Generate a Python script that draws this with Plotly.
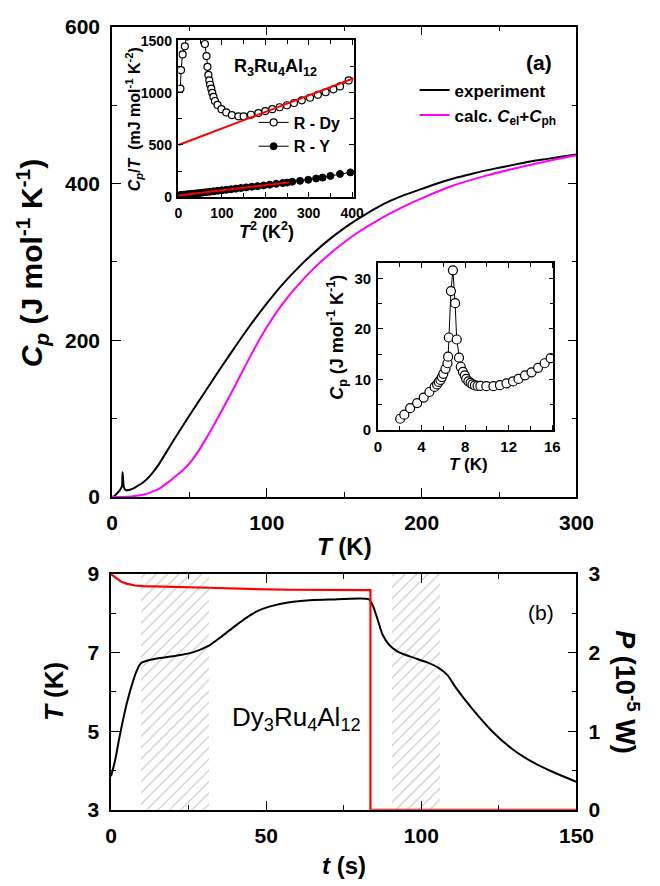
import plotly.graph_objects as go

# ---------------- data ----------------
# main panel (a): Cp(T)
T_exp = [0, 1, 2, 3, 4, 5, 6, 6.5, 6.8, 7.1, 7.5, 8, 9, 10, 12, 15, 20, 25, 30, 35, 40, 50,
         60, 70, 80, 90, 100, 110, 120, 130, 140, 150, 160, 170, 180, 190, 200, 210, 220,
         230, 240, 250, 260, 270, 280, 290, 300]
Cp_exp = [0, 0.8, 2.1, 4.3, 6.3, 8.5, 12, 14.5, 31.5, 25, 14.3, 11, 9, 8.7, 9.6, 12.5, 18.5,
          28, 41, 57, 73, 104, 134, 164, 193, 221, 247, 271, 292, 311, 328, 343, 356, 368,
          378, 386, 393, 400, 406, 411, 416, 420, 424, 428, 431, 434, 437]

T_calc = [0, 5, 10, 15, 20, 25, 30, 37, 40, 45, 50, 55, 60, 70, 80, 90, 100, 110, 120, 130,
          140, 150, 160, 170, 180, 190, 200, 220, 240, 260, 280, 300]
Cp_calc = [0, 0.1, 0.5, 1.5, 3, 6, 10, 20, 25, 33, 43, 56, 72, 107, 144, 182, 217, 246, 270,
           291, 309, 325, 339, 351, 362, 372, 381, 397, 409, 419, 428, 436]

# inset 1: Cp/T vs T^2
T2_dy = [4.4, 5.9, 9.5, 14.6, 20, 27, 36, 42, 46, 50, 52, 55, 58, 60.8, 64.5, 66.7, 68.9, 71,
         73, 75.5, 77.7, 80.6, 84, 90, 99, 110, 123, 138, 150, 167, 184, 200, 216, 233, 250,
         266, 284, 303, 321, 339, 357, 372, 392]
CpT_dy = [1040, 1219, 1369, 1447, 1540, 1635, 1850, 2800, 4650, 3530, 2475, 1920, 1645, 1469,
          1353, 1250, 1172, 1119, 1078, 1040, 1000, 962, 922, 884, 844, 812, 787, 775, 775,
          790, 806, 825, 844, 862, 881, 903, 928, 953, 981, 1006, 1034, 1062, 1119]
T2_y = [1.5, 4, 6.3, 9, 12.3, 16, 20, 25, 30, 36, 42, 49, 56, 64, 72, 81, 90, 100, 110, 121,
        132, 144, 156, 169, 182, 196, 210, 225, 240, 250, 262, 280, 299, 317, 332, 350, 372, 396]
CpT_y = [17, 18, 19, 20, 22, 24, 26, 28, 31, 33, 36, 40, 43, 47, 51, 55, 60, 65, 70, 75, 81,
         87, 93, 99, 105, 112, 119, 127, 134, 139, 147, 156, 166, 178, 187, 203, 222, 237]
fit_dy_x = [0, 404]
fit_dy_y = [500, 1140]
fit_y_x = [0, 255]
fit_y_y = [16, 141]

# inset 2: low-T Cp of Dy3Ru4Al12
T_low = [2.04, 2.42, 2.95, 3.6, 4.2, 4.72, 5.2, 5.43, 5.58, 5.73, 5.87, 6.0, 6.2, 6.38, 6.44,
         6.5, 6.7, 6.88, 7.08, 7.23, 7.44, 7.6, 7.8, 7.97, 8.1, 8.3, 8.5, 8.68, 8.9, 9.15, 9.4,
         9.95, 10.6, 11.2, 11.8, 12.4, 12.9, 13.5, 14.1, 14.7, 15.3, 15.85]
Cp_low = [2.2, 3.0, 4.3, 5.3, 6.4, 7.5, 8.5, 9.0, 9.5, 9.9, 10.45, 11.1, 12.1, 13.2, 14.5,
          18.3, 27.5, 31.6, 25.1, 17.9, 14.3, 12.5, 11.5, 10.8, 10.1, 9.6, 9.3, 9.0, 8.8, 8.7,
          8.7, 8.65, 8.65, 8.85, 9.2, 9.6, 10.1, 10.8, 11.4, 12.3, 13.2, 14.2]

# panel (b): relaxation curve
t_T = [0, 1.3, 2.6, 3.9, 5.2, 7.2, 8.5, 9.8, 11.8, 15.7, 20.9, 26.1, 31.4, 35.3, 39.2,
       43.1, 47, 51, 57.5, 64, 70.6, 83, 84.3, 85.6, 87.5, 89.5, 92.1, 96.7, 101.9, 105.8,
       108.5, 111, 116.3, 122.8, 129.4, 135.9, 142.4, 150]
T_samp = [3.85, 4.25, 4.8, 5.3, 5.75, 6.3, 6.58, 6.74, 6.8, 6.86, 6.92, 7.0, 7.17, 7.39,
          7.63, 7.86, 8.05, 8.17, 8.28, 8.33, 8.35, 8.36, 8.21, 7.92, 7.46, 7.21, 7.04, 6.89,
          6.75, 6.6, 6.42, 6.12, 5.58, 5.0, 4.54, 4.21, 3.96, 3.71]
t_P = [0, 1.3, 3.3, 5.2, 7.8, 10.5, 18.3, 31.4, 44.4, 57.5, 83.6, 83.6, 150]
P_heat = [3.0, 2.96, 2.90, 2.875, 2.854, 2.846, 2.84, 2.825, 2.81, 2.80, 2.795, 0, 0]
hatch_start = [9.8, 90.4]
hatch_end = [31.6, 106.1]

# ---------------- layout helpers ----------------
W, H = 660, 886
FONT = "Liberation Sans, Arial, sans-serif"


def fx(px):
    return px / W


def fy(py):
    return 1 - py / H


fig = go.Figure()

# main panel
fig.add_trace(go.Scatter(x=T_exp, y=Cp_exp, mode="lines", name="experiment",
                         line=dict(color="black", width=2, shape="spline", smoothing=0.5),
                         xaxis="x", yaxis="y", legend="legend"))
fig.add_trace(go.Scatter(x=T_calc, y=Cp_calc, mode="lines",
                         name="calc. <i>C</i><sub>el</sub>+<i>C</i><sub>ph</sub>",
                         line=dict(color="#ff00ff", width=2, shape="spline", smoothing=0.8),
                         xaxis="x", yaxis="y", legend="legend"))

# inset 1
fig.add_trace(go.Scatter(x=T2_dy, y=CpT_dy, mode="lines+markers", name="R - Dy",
                         line=dict(color="black", width=1),
                         marker=dict(symbol="circle", size=7, color="white",
                                     line=dict(color="black", width=1.2)),
                         xaxis="x3", yaxis="y3", legend="legend2", cliponaxis=True))
fig.add_trace(go.Scatter(x=T2_y, y=CpT_y, mode="lines+markers", name="R - Y",
                         line=dict(color="black", width=1),
                         marker=dict(symbol="circle", size=7, color="black",
                                     line=dict(color="black", width=1)),
                         xaxis="x3", yaxis="y3", legend="legend2"))
fig.add_trace(go.Scatter(x=fit_dy_x, y=fit_dy_y, mode="lines", showlegend=False,
                         line=dict(color="red", width=2), xaxis="x3", yaxis="y3"))
fig.add_trace(go.Scatter(x=fit_y_x, y=fit_y_y, mode="lines", showlegend=False,
                         line=dict(color="red", width=2), xaxis="x3", yaxis="y3"))

# inset 2
fig.add_trace(go.Scatter(x=T_low, y=Cp_low, mode="lines+markers", showlegend=False,
                         line=dict(color="black", width=1),
                         marker=dict(symbol="circle", size=9, color="white",
                                     line=dict(color="black", width=1.2)),
                         xaxis="x4", yaxis="y4"))

# panel (b): hatched regions
fig.add_trace(go.Bar(
    x=[(a + b) / 2 for a, b in zip(hatch_start, hatch_end)],
    width=[b - a for a, b in zip(hatch_start, hatch_end)],
    y=[6] * len(hatch_start), base=[3] * len(hatch_start),
    marker=dict(color="rgba(0,0,0,0)", line=dict(width=0),
                pattern=dict(shape="/", fgcolor="#999999", bgcolor="rgba(0,0,0,0)",
                             size=8, solidity=0.15, fillmode="overlay")),
    showlegend=False, hoverinfo="skip", xaxis="x2", yaxis="y2"))
fig.add_trace(go.Scatter(x=t_T, y=T_samp, mode="lines", showlegend=False,
                         line=dict(color="black", width=2, shape="spline", smoothing=0.6),
                         xaxis="x2", yaxis="y2"))
fig.add_trace(go.Scatter(x=t_P, y=P_heat, mode="lines", showlegend=False,
                         line=dict(color="red", width=2.2), xaxis="x2", yaxis="y5"))


# ---------------- axes ----------------
def ax(domain, rng, anchor, dtick, mdtick, size, tl=9, mtl=5, standoff=None, **kw):
    d = dict(domain=domain, range=rng, anchor=anchor, showline=True, linecolor="black",
             linewidth=1.5, mirror="ticks", ticks="inside", ticklen=tl, tickwidth=1.3,
             tickcolor="black", dtick=dtick, tick0=0, showgrid=False, zeroline=False,
             tickfont=dict(family=FONT, size=size, color="black", weight="bold"),
             minor=dict(ticks="inside", ticklen=mtl, tickwidth=1.3, tickcolor="black",
                        dtick=mdtick, showgrid=False))
    if standoff is not None:
        d["ticklabelstandoff"] = standoff
    d.update(kw)
    return d


layout = dict(
    width=W, height=H, margin=dict(l=0, r=0, t=0, b=0),
    paper_bgcolor="white", plot_bgcolor="white",
    font=dict(family=FONT, color="black"),
    xaxis=ax([fx(110), fx(592)], [0, 300], "y", 100, 50, 21, standoff=6),
    yaxis=ax([fy(498), fy(15)], [0, 600], "x", 200, 100, 21, standoff=6),
    xaxis2=ax([fx(109), fx(592)], [0, 150], "y2", 50, 25, 21, standoff=6),
    yaxis2=ax([fy(819), fy(577)], [3, 9], "x2", 2, 1, 21, standoff=6, tick0=3, mirror=True),
    yaxis5=ax([fy(819), fy(577)], [0, 3], "x2", 1, 0.5, 21, standoff=6, overlaying="y2",
              side="right"),
    xaxis3=ax([fx(179), fx(361)], [0, 404], "y3", 100, 50, 14, tl=5, mtl=4, standoff=2),
    yaxis3=ax([fy(190), fy(29)], [0, 1505], "x3", 500, 250, 14, tl=5, mtl=4, standoff=2),
    xaxis4=ax([fx(386), fx(568)], [0, 16.1], "y4", 4, 2, 15, tl=5, mtl=4, standoff=2),
    yaxis4=ax([fy(429), fy(258)], [0, 33], "x4", 10, 5, 15, tl=5, mtl=4, standoff=2),
    legend=dict(x=fx(424), y=fy(62), xanchor="left", yanchor="top",
                bgcolor="rgba(0,0,0,0)", borderwidth=0, itemwidth=30,
                font=dict(family=FONT, size=17, color="black", weight="bold")),
    legend2=dict(x=fx(257), y=fy(96), xanchor="left", yanchor="top",
                 bgcolor="rgba(0,0,0,0)", borderwidth=0, itemwidth=30,
                 font=dict(family=FONT, size=16, color="black", weight="bold")),
    showlegend=True,
    bargap=0,
)
fig.update_layout(**layout)


def note(text, x, y, size, bold=True, angle=0):
    fig.add_annotation(text=text, x=fx(x), y=fy(y), xref="paper", yref="paper",
                       showarrow=False, textangle=angle, xanchor="center", yanchor="middle",
                       font=dict(family=FONT, size=size, color="black",
                                 weight="bold" if bold else "normal"))


note("(a)", 553, 52, 21)
note("R<sub>3</sub>Ru<sub>4</sub>Al<sub>12</sub>", 280, 57, 18)
note("(b)", 555, 616, 21, bold=False)
note("Dy<sub>3</sub>Ru<sub>4</sub>Al<sub>12</sub>", 301, 725, 26, bold=False)
note("<i>T</i> (K)", 351, 549, 24)
note("<i>C<sub>p</sub></i> (J mol<sup>-1</sup> K<sup>-1</sup>)", 27, 258, 30, angle=-90)
note("<i>T</i><sup>2</sup> (K<sup>2</sup>)", 270, 224, 18)
note("<i>C</i><sub><i>p</i></sub>/<i>T</i>  (mJ mol<sup>-1</sup> K<sup>-2</sup>)", 133, 110,
     16, angle=-90)
note("<i>T</i> (K)", 480, 465, 17)
note("<i>C</i><sub>p</sub> (J mol<sup>-1</sup> K<sup>-1</sup>)", 343, 334, 18, angle=-90)
note("<i>t</i> (s)", 351, 876, 24)
note("<i>T</i> (K)", 50, 698, 26, angle=-90)
note("<i>P</i> (10<sup>-5</sup> W)", 645, 698, 27, angle=90)

fig.write_html(
    "out.html",
    config={"displayModeBar": False},
    post_script="document.documentElement.style.margin='0';"
                "document.body.style.margin='0';"
                "document.body.style.overflow='hidden';",
)
